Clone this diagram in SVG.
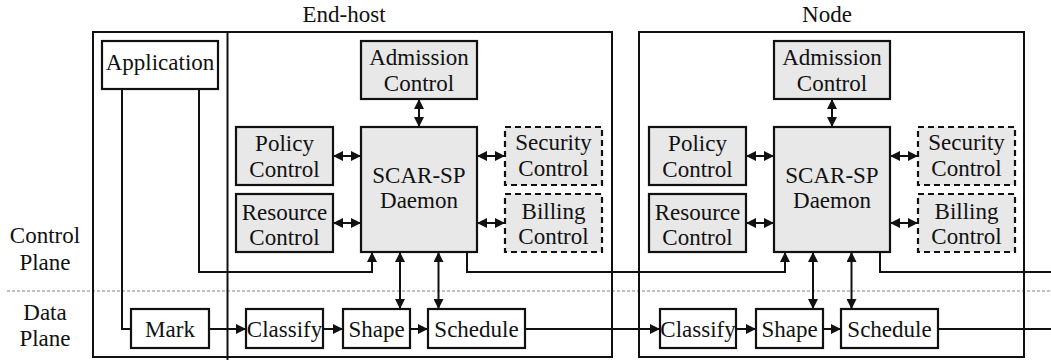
<svg xmlns="http://www.w3.org/2000/svg" width="1051" height="360" viewBox="0 0 1051 360">
<style>
text{font-family:'Liberation Serif','Times New Roman',serif;font-size:23px;fill:#111;text-anchor:middle}
.box{fill:#fff;stroke:#111;stroke-width:2.2}
.gbox{fill:#e8e8e8;stroke:#111;stroke-width:2.2}
.dbox{fill:#e8e8e8;stroke:#111;stroke-width:2.2;stroke-dasharray:6 4}
.frame{fill:none;stroke:#111;stroke-width:2}
.ln{fill:none;stroke:#111;stroke-width:2}
.ar{marker-end:url(#ah)}
.dar{marker-end:url(#ah);marker-start:url(#ah)}
</style>
<defs>
<marker id="ah" viewBox="0 0 10 10" refX="10" refY="5" markerWidth="11" markerHeight="10" markerUnits="userSpaceOnUse" orient="auto-start-reverse">
<path d="M0,0 L10,5 L0,10 z" fill="#111"/>
</marker>
</defs>
<rect width="1051" height="360" fill="#fff"/>
<line x1="7" y1="291" x2="1051" y2="291" stroke="#c2c2c2" stroke-width="2.2" stroke-dasharray="3 2"/>
<g id="labels">
<text x="45" y="243">Control</text>
<text x="45" y="270">Plane</text>
<text x="45" y="320">Data</text>
<text x="45" y="346">Plane</text>
<text x="344" y="22">End-host</text>
<text x="827" y="22">Node</text>
</g>
<g id="endhost-frame">
<rect class="frame" x="93" y="32" width="519" height="325"/>
<line class="ln" x1="227.5" y1="32" x2="227.5" y2="360"/>
</g>
<g id="node-frame">
<rect class="frame" x="639" y="32" width="385" height="325"/>
</g>
<g id="connectors">
<line class="ln dar" x1="419" y1="99" x2="419" y2="127"/>
<line class="ln dar" x1="333" y1="156" x2="361" y2="156"/>
<line class="ln dar" x1="333" y1="223" x2="361" y2="223"/>
<line class="ln dar" x1="477" y1="156" x2="505" y2="156"/>
<line class="ln dar" x1="477" y1="223" x2="505" y2="223"/>
<polyline class="ln ar" points="199,89 199,272 372,272 372,252"/>
<polyline class="ln" points="122,89 122,329 131,329"/>
<line class="ln ar" x1="209" y1="329" x2="246" y2="329"/>
<line class="ln ar" x1="323" y1="329" x2="343" y2="329"/>
<line class="ln ar" x1="410" y1="329" x2="428" y2="329"/>
<line class="ln dar" x1="400" y1="252" x2="400" y2="309"/>
<line class="ln dar" x1="438.5" y1="252" x2="438.5" y2="309"/>
<polyline class="ln ar" points="467,252 467,272 785,272 785,252"/>
<line class="ln ar" x1="525" y1="329" x2="660" y2="329"/>
<line class="ln dar" x1="832" y1="99" x2="832" y2="127"/>
<line class="ln dar" x1="746" y1="156" x2="774" y2="156"/>
<line class="ln dar" x1="746" y1="223" x2="774" y2="223"/>
<line class="ln dar" x1="890" y1="156" x2="918" y2="156"/>
<line class="ln dar" x1="890" y1="223" x2="918" y2="223"/>
<line class="ln ar" x1="736" y1="329" x2="756" y2="329"/>
<line class="ln ar" x1="823" y1="329" x2="841" y2="329"/>
<line class="ln dar" x1="813" y1="252" x2="813" y2="309"/>
<line class="ln dar" x1="851.5" y1="252" x2="851.5" y2="309"/>
<polyline class="ln" points="880,252 880,272 1051,272"/>
<line class="ln" x1="938" y1="329" x2="1051" y2="329"/>
</g>
<g id="application"><rect class="box" x="102" y="41" width="116" height="48"/><text x="160" y="70">Application</text></g>
<g id="eh-admission"><rect class="gbox" x="361" y="41" width="116" height="58"/><text x="419" y="65">Admission</text><text x="419" y="90.5">Control</text></g>
<g id="eh-policy"><rect class="gbox" x="236" y="127" width="97" height="58"/><text x="284.5" y="151">Policy</text><text x="284.5" y="176.5">Control</text></g>
<g id="eh-resource"><rect class="gbox" x="236" y="194" width="97" height="58"/><text x="284.5" y="219.5">Resource</text><text x="284.5" y="245">Control</text></g>
<g id="eh-daemon"><rect class="gbox" x="361" y="127" width="116" height="125"/><text x="419" y="182.5">SCAR-SP</text><text x="419" y="208">Daemon</text></g>
<g id="eh-security"><rect class="dbox" x="505" y="127" width="97" height="58"/><text x="553.5" y="150">Security</text><text x="553.5" y="175.5">Control</text></g>
<g id="eh-billing"><rect class="dbox" x="505" y="194" width="97" height="58"/><text x="553.5" y="218.5">Billing</text><text x="553.5" y="244">Control</text></g>
<g id="mark"><rect class="box" x="131" y="309" width="78" height="39"/><text x="170" y="336.5">Mark</text></g>
<g id="eh-classify"><rect class="box" x="246" y="309" width="77" height="39"/><text x="284.5" y="336.5">Classify</text></g>
<g id="eh-shape"><rect class="box" x="343" y="309" width="67" height="39"/><text x="376.5" y="336.5">Shape</text></g>
<g id="eh-schedule"><rect class="box" x="428" y="309" width="97" height="39"/><text x="476.5" y="336.5">Schedule</text></g>
<g id="n-admission"><rect class="gbox" x="774" y="41" width="116" height="58"/><text x="832" y="65">Admission</text><text x="832" y="90.5">Control</text></g>
<g id="n-policy"><rect class="gbox" x="649" y="127" width="97" height="58"/><text x="697.5" y="151">Policy</text><text x="697.5" y="176.5">Control</text></g>
<g id="n-resource"><rect class="gbox" x="649" y="194" width="97" height="58"/><text x="697.5" y="219.5">Resource</text><text x="697.5" y="245">Control</text></g>
<g id="n-daemon"><rect class="gbox" x="774" y="127" width="116" height="125"/><text x="832" y="182.5">SCAR-SP</text><text x="832" y="208">Daemon</text></g>
<g id="n-security"><rect class="dbox" x="918" y="127" width="97" height="58"/><text x="966.5" y="150">Security</text><text x="966.5" y="175.5">Control</text></g>
<g id="n-billing"><rect class="dbox" x="918" y="194" width="97" height="58"/><text x="966.5" y="218.5">Billing</text><text x="966.5" y="244">Control</text></g>
<g id="n-classify"><rect class="box" x="660" y="309" width="76" height="39"/><text x="698" y="336.5">Classify</text></g>
<g id="n-shape"><rect class="box" x="756" y="309" width="67" height="39"/><text x="789.5" y="336.5">Shape</text></g>
<g id="n-schedule"><rect class="box" x="841" y="309" width="97" height="39"/><text x="889.5" y="336.5">Schedule</text></g>
</svg>
